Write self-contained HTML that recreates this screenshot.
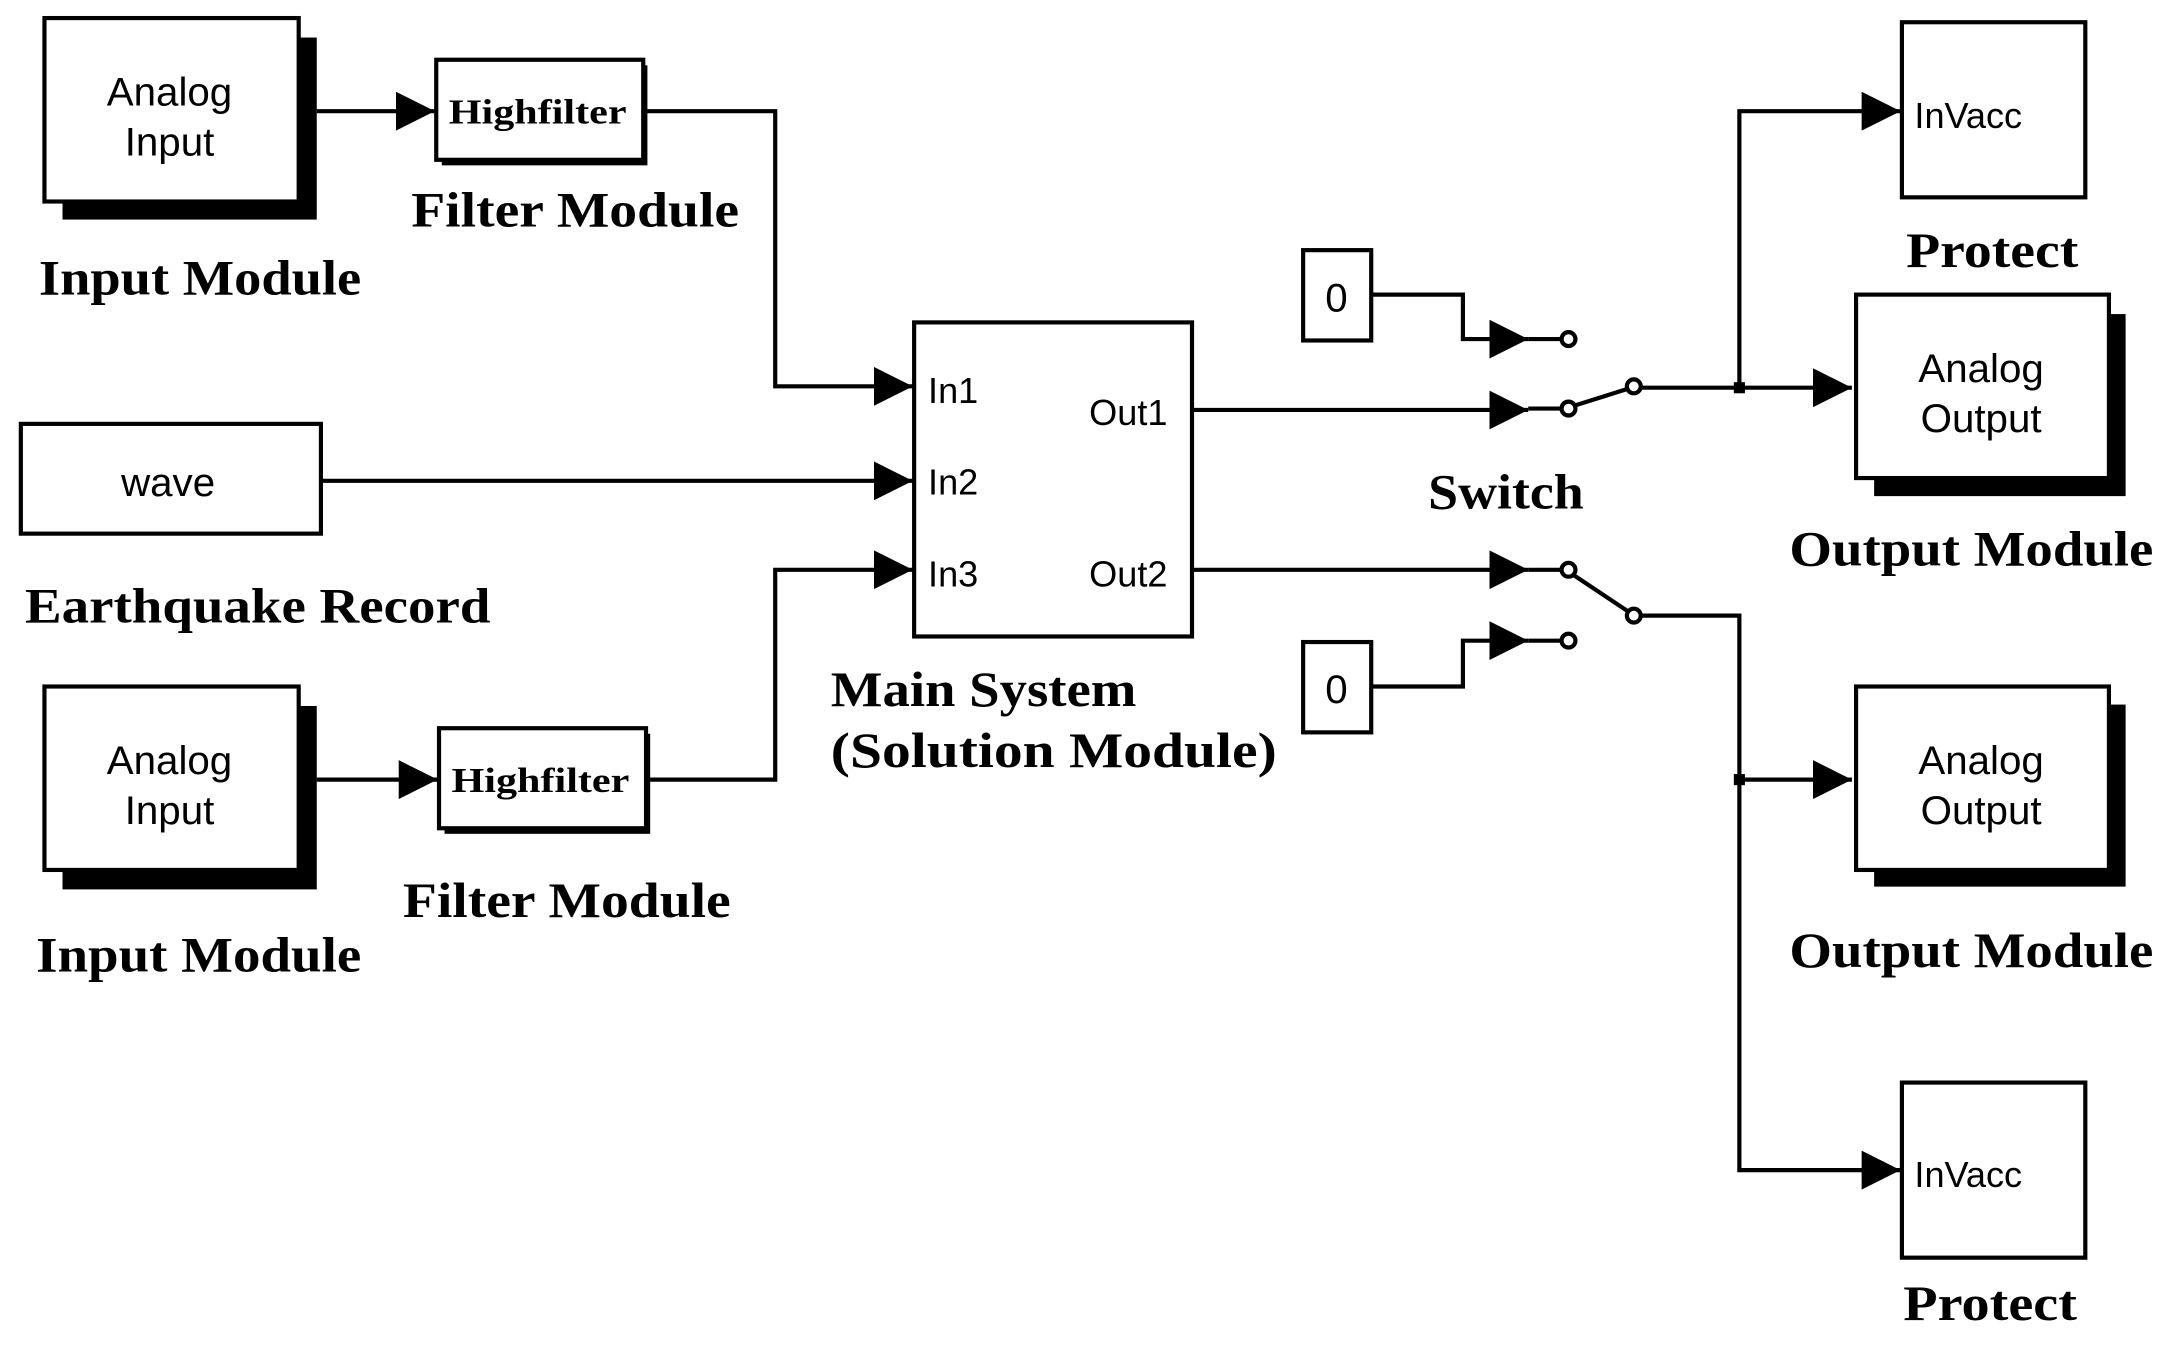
<!DOCTYPE html>
<html><head><meta charset="utf-8"><style>html,body{margin:0;padding:0;background:#fff}svg{display:block}</style></head>
<body>
<svg width="2177" height="1348" viewBox="0 0 1567 970" preserveAspectRatio="none" xmlns="http://www.w3.org/2000/svg">
<defs>
<marker id="a" viewBox="0 0 28 28" refX="28" refY="14" markerWidth="28" markerHeight="28" markerUnits="userSpaceOnUse" orient="auto"><path d="M0,0 L28,14 L0,28 Z" fill="#000"/></marker>
</defs>
<g fill="none" stroke="#000" stroke-width="3">
<rect x="45" y="27" width="183" height="131" fill="#000" stroke="none"/>
<rect x="32" y="13" width="183" height="132" fill="#fff"/>
<line x1="228" y1="80" x2="313" y2="80" marker-end="url(#a)"/>
<rect x="318" y="47" width="148" height="72" fill="#000" stroke="none"/>
<rect x="314" y="43" width="149" height="72" fill="#fff"/>
<polyline points="463,80 558,80 558,278 657,278" marker-end="url(#a)"/>
<rect x="15" y="305" width="216" height="79" fill="#fff"/>
<line x1="231" y1="346" x2="657" y2="346" marker-end="url(#a)"/>
<rect x="45" y="508" width="183" height="132" fill="#000" stroke="none"/>
<rect x="32" y="494" width="183" height="132" fill="#fff"/>
<line x1="228" y1="561" x2="315" y2="561" marker-end="url(#a)"/>
<rect x="320" y="528" width="148" height="72" fill="#000" stroke="none"/>
<rect x="316" y="524" width="149" height="72" fill="#fff"/>
<polyline points="465,561 558,561 558,410 657,410" marker-end="url(#a)"/>
<rect x="658" y="232" width="200" height="226" fill="#fff"/>
<line x1="858" y1="295" x2="1100" y2="295" marker-end="url(#a)"/>
<line x1="1100" y1="294" x2="1124" y2="294"/>
<line x1="1133" y1="292" x2="1171" y2="280"/>
<circle cx="1129" cy="294" r="5" fill="#fff"/>
<circle cx="1176" cy="278" r="5" fill="#fff"/>
<rect x="938" y="180" width="49" height="65" fill="#fff"/>
<polyline points="987,212 1053,212 1053,244 1100,244" marker-end="url(#a)"/>
<line x1="1100" y1="244" x2="1124" y2="244"/>
<circle cx="1129" cy="244" r="5" fill="#fff"/>
<line x1="1181" y1="279" x2="1333" y2="279" marker-end="url(#a)"/>
<polyline points="1252,279 1252,80 1368,80" marker-end="url(#a)"/>
<line x1="858" y1="410" x2="1100" y2="410" marker-end="url(#a)"/>
<line x1="1100" y1="410" x2="1124" y2="410"/>
<line x1="1133" y1="414" x2="1172" y2="440"/>
<circle cx="1129" cy="410" r="5" fill="#fff"/>
<circle cx="1176" cy="443" r="5" fill="#fff"/>
<rect x="938" y="462" width="49" height="65" fill="#fff"/>
<polyline points="987,494 1053,494 1053,461 1100,461" marker-end="url(#a)"/>
<line x1="1100" y1="461" x2="1124" y2="461"/>
<circle cx="1129" cy="461" r="5" fill="#fff"/>
<polyline points="1181,443 1252,443 1252,842 1368,842" marker-end="url(#a)"/>
<line x1="1252" y1="561" x2="1333" y2="561" marker-end="url(#a)"/>
<rect x="1369" y="16" width="132" height="126" fill="#fff"/>
<rect x="1349" y="226" width="181" height="131" fill="#000" stroke="none"/>
<rect x="1336" y="212" width="182" height="132" fill="#fff"/>
<rect x="1349" y="507" width="181" height="131" fill="#000" stroke="none"/>
<rect x="1336" y="494" width="182" height="132" fill="#fff"/>
<rect x="1369" y="779" width="132" height="126" fill="#fff"/>
</g>
<rect x="1248" y="275" width="8" height="8" fill="#000"/>
<rect x="1248" y="557" width="8" height="8" fill="#000"/>
<g font-family="Liberation Sans, Arial, sans-serif" font-size="29" fill="#000" text-anchor="middle">
<text x="122" y="76">Analog</text><text x="122" y="112">Input</text>
<text x="122" y="557">Analog</text><text x="122" y="593">Input</text>
<text x="121" y="357">wave</text>
<text x="1426" y="275">Analog</text><text x="1426" y="311">Output</text>
<text x="1426" y="557">Analog</text><text x="1426" y="593">Output</text>
<text x="962" y="224">0</text><text x="962" y="506">0</text>
<g font-size="26" text-anchor="start">
<text x="668" y="290">In1</text><text x="668" y="356">In2</text><text x="668" y="422">In3</text>
<text x="784" y="306">Out1</text><text x="784" y="422">Out2</text>
<text x="1378" y="92">InVacc</text><text x="1378" y="854">InVacc</text>
</g>
</g>
<g font-family="Liberation Serif, Times New Roman, serif" font-weight="bold" fill="#000">
<text x="323" y="89" font-size="25" textLength="128" lengthAdjust="spacingAndGlyphs">Highfilter</text>
<text x="325" y="570" font-size="25" textLength="128" lengthAdjust="spacingAndGlyphs">Highfilter</text>
<g font-size="36">
<text x="296" y="163" textLength="236" lengthAdjust="spacingAndGlyphs">Filter Module</text>
<text x="28" y="212" textLength="232" lengthAdjust="spacingAndGlyphs">Input Module</text>
<text x="18" y="448" textLength="335" lengthAdjust="spacingAndGlyphs">Earthquake Record</text>
<text x="290" y="660" textLength="236" lengthAdjust="spacingAndGlyphs">Filter Module</text>
<text x="26" y="699" textLength="234" lengthAdjust="spacingAndGlyphs">Input Module</text>
<text x="598" y="508" textLength="220" lengthAdjust="spacingAndGlyphs">Main System</text>
<text x="598" y="552" textLength="321" lengthAdjust="spacingAndGlyphs">(Solution  Module)</text>
<text x="1028" y="366" textLength="112" lengthAdjust="spacingAndGlyphs">Switch</text>
<text x="1372" y="192" textLength="124" lengthAdjust="spacingAndGlyphs">Protect</text>
<text x="1288" y="407" textLength="262" lengthAdjust="spacingAndGlyphs">Output Module</text>
<text x="1288" y="696" textLength="262" lengthAdjust="spacingAndGlyphs">Output Module</text>
<text x="1370" y="950" textLength="125" lengthAdjust="spacingAndGlyphs">Protect</text>
</g>
</g>
</svg>
</body></html>
